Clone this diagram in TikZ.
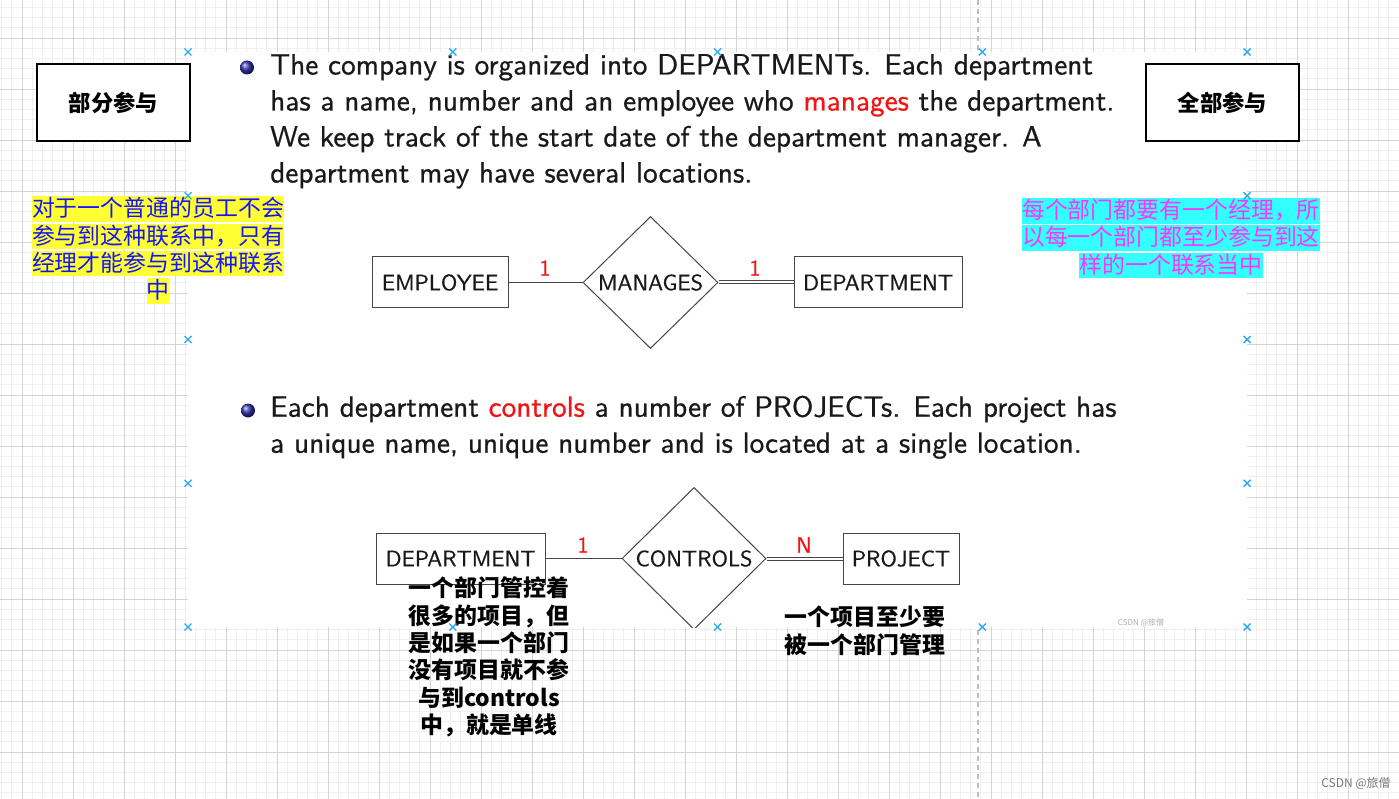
\documentclass[tikz,border=0pt]{standalone}
\usepackage{fontspec}
\newfontfamily\cjk{Noto Sans CJK SC}
\newfontfamily\slidefont{lmsans10-regular.otf}[FakeBold=0.7]
\usetikzlibrary{shapes.geometric}
\definecolor{gridminor}{RGB}{240,240,240}
\definecolor{gridmajor}{RGB}{212,212,212}
\definecolor{pagebreak}{RGB}{190,190,190}
\definecolor{handleblue}{RGB}{41,170,240}
\definecolor{slidetext}{RGB}{25,25,25}
\definecolor{erline}{RGB}{70,70,70}
\definecolor{redword}{RGB}{240,20,20}
\definecolor{hlyellow}{RGB}{255,255,51}
\definecolor{hlcyan}{RGB}{51,255,255}
\definecolor{txtblue}{RGB}{20,20,255}
\definecolor{txtmag}{RGB}{255,51,255}
\definecolor{ballcol}{RGB}{51,51,179}
\definecolor{wmgray}{RGB}{120,120,120}
\tikzset{
  minorline/.style={draw=gridminor, line width=0.8pt},
  majorline/.style={draw=gridmajor, line width=0.9pt},
  slideline/.style={anchor=base west, inner sep=0pt, text=slidetext,
    font=\slidefont\fontsize{29.3}{36}\selectfont},
  entity/.style={draw=erline, line width=1pt, minimum height=51pt, inner sep=0pt,
    text=slidetext, font=\slidefont\fontsize{22.3}{26}\selectfont},
  rel/.style={diamond, draw=erline, line width=1pt, inner sep=0pt,
    text=slidetext, font=\slidefont\fontsize{22.3}{26}\selectfont},
  erl/.style={draw=erline, line width=1pt},
  erdouble/.style={draw=erline, line width=1pt, double, double distance=2pt},
  card/.style={inner sep=0pt, text=redword, font=\slidefont\fontsize{22.3}{26}\selectfont},
  notebox/.style={draw=black, line width=1.5pt, fill=white, minimum width=153pt,
    minimum height=77pt, inner sep=0pt, font=\cjk\bfseries\fontsize{22.3}{26}\selectfont},
  hly/.style={anchor=base, fill=hlyellow, text=txtblue, inner sep=0pt,
    text height=20.5pt, text depth=5pt, font=\cjk\fontsize{22.9}{27}\selectfont},
  hlc/.style={anchor=base, fill=hlcyan, text=txtmag, inner sep=0pt,
    text height=20.5pt, text depth=5pt, font=\cjk\fontsize{22.9}{27}\selectfont},
  boldnote/.style={anchor=base, inner sep=0pt, text=black,
    font=\cjk\bfseries\fontsize{22.9}{27}\selectfont},
  handle/.style={draw=handleblue, line width=1.4pt},
}
\begin{document}
\begin{tikzpicture}[x=1pt,y=-1pt]
\useasboundingbox (0,0) rectangle (1399,799);
\clip (0,0) rectangle (1399,799);
\fill[white] (0,0) rectangle (1399,799);
% grid
\foreach \k in {0,...,142} {\draw[minorline] ({-29+10.2*\k},0) -- ({-29+10.2*\k},799);}
\foreach \k in {0,...,82} {\draw[minorline] (0,{-13+10.2*\k}) -- (1399,{-13+10.2*\k});}
\foreach \k in {0,...,27} {\draw[majorline] ({22+51*\k},0) -- ({22+51*\k},799);}
\foreach \k in {0,...,15} {\draw[majorline] (0,{38+51*\k}) -- (1399,{38+51*\k});}
\draw[pagebreak, line width=1.2pt, dash pattern=on 5pt off 4pt] (978,0) -- (978,799);
% slide
\fill[white] (188,52) rectangle (1247,627);
\begin{scope}
\clip (188,52) rectangle (1247,627);
\shade[ball color=ballcol] (247,67.5) circle (7);
\node[slideline] (l1) at (270,74.5) {The company is organized into DEPARTMENTs.  Each department};
\node[slideline] (l2) at (270,110.5) {has a name, number and an employee who \textcolor{redword}{manages} the department.};
\node[slideline] (l3) at (270,146.5) {We keep track of the start date of the department manager.  A};
\node[slideline] (l4) at (270,182.5) {department may have several locations.};
\node[entity, minimum width=136pt] (emp) at (440,282.5) {EMPLOYEE};
\node[rel, minimum width=135pt, minimum height=132pt] (man) at (650.5,282.5) {MANAGES};
\node[entity, minimum width=168pt] (dep1) at (878,282.5) {DEPARTMENT};
\draw[erl] (emp.east) -- (man.west);
\draw[erdouble] (man.east) -- (dep1.west);
\node[card] (c1) at (545,268) {1};
\node[card] (c2) at (755,268) {1};
\shade[ball color=ballcol] (248,410.5) circle (7);
\node[slideline] (l5) at (270,416.7) {Each department \textcolor{redword}{controls} a number of PROJECTs.  Each project has};
\node[slideline] (l6) at (270,452.7) {a unique name, unique number and is located at a single location.};
\node[entity, minimum width=169pt] (dep2) at (460.5,558.5) {DEPARTMENT};
\node[rel, minimum width=144pt, minimum height=142pt] (ctl) at (694,558.5) {CONTROLS};
\node[entity, minimum width=116pt] (proj) at (901,558.5) {PROJECT};
\draw[erl] (dep2.east) -- (ctl.west);
\draw[erdouble] (ctl.east) -- (proj.west);
\node[card] (c3) at (583,545) {1};
\node[card] (c4) at (804,545) {N};
\node[inner sep=0pt, text=wmgray!60, font=\cjk\fontsize{8}{9}\selectfont] (wm1) at (1141,623) {CSDN @旅僧};
\end{scope}
% annotation boxes
\node[notebox] (partial) at (113.5,102.5) {部分参与};
\node[notebox] (total) at (1222.5,102.5) {全部参与};
% yellow note
\node[hly] (y1) at (158,216.7) {对于一个普通的员工不会};
\node[hly] (y2) at (158,244.1) {参与到这种联系中，只有};
\node[hly] (y3) at (158,271.5) {经理才能参与到这种联系};
\node[hly] (y4) at (158,298.9) {中};
% cyan note
\node[hlc] (m1) at (1171,218.6) {每个部门都要有一个经理，所};
\node[hlc] (m2) at (1171,246) {以每一个部门都至少参与到这};
\node[hlc] (m3) at (1171,273.4) {样的一个联系当中};
% bold notes
\foreach \t/\y [count=\i] in {一个部门管控着/596.7, 很多的项目，但/624.1, 是如果一个部门/651.5, 没有项目就不参/678.9, 与到controls/706.3, 中，就是单线/733.7}
  {\node[boldnote] (na\i) at (489,\y) {\t};}
\node[boldnote] (nb1) at (865,625.7) {一个项目至少要};
\node[boldnote] (nb2) at (865,653.1) {被一个部门管理};
% watermark
\node[inner sep=0pt, text=wmgray, font=\cjk\fontsize{12}{14}\selectfont] (wm2) at (1356,783) {CSDN @旅僧};
% selection handles
\foreach \hx/\hy in {188/52, 452.75/52, 717.5/52, 982.25/52, 1247/52,
                     188/627, 452.75/627, 717.5/627, 982.25/627, 1247/627,
                     188/195.75, 188/339.5, 188/483.25,
                     1247/195.75, 1247/339.5, 1247/483.25}
  {\draw[handle] (\hx-3.5,\hy-3.5) -- (\hx+3.5,\hy+3.5) (\hx-3.5,\hy+3.5) -- (\hx+3.5,\hy-3.5);}
\end{tikzpicture}
\end{document}
